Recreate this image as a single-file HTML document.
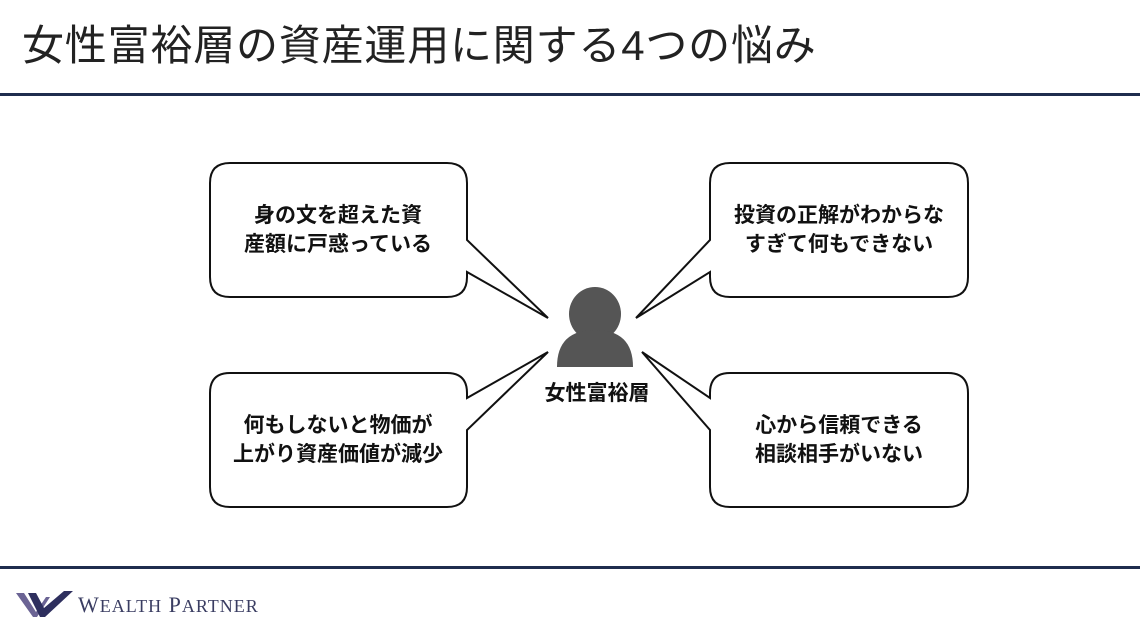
<!DOCTYPE html>
<html><head><meta charset="utf-8"><style>
html,body{margin:0;padding:0;background:#fff;}
svg{display:block;}
</style></head><body>
<svg width="1140" height="641" viewBox="0 0 1140 641" xmlns="http://www.w3.org/2000/svg">
<text x="22" y="60" font-family="'Liberation Sans','Noto Sans CJK JP',sans-serif" font-size="42" letter-spacing="0.8" fill="#222">女性富裕層の資産運用に関する4つの悩み</text>
<rect x="0" y="93" width="1140" height="3" fill="#1f2d4e"/>
<g fill="#fff" stroke="#111" stroke-width="2" stroke-linejoin="miter">
<path d="M230,163 H447 Q467,163 467,183 V240 L548,318 L467,272 V277 Q467,297 447,297 H230 Q210,297 210,277 V183 Q210,163 230,163 Z"/>
<path d="M730,163 H948 Q968,163 968,183 V277 Q968,297 948,297 H730 Q710,297 710,277 V272 L636,318 L710,240 V183 Q710,163 730,163 Z"/>
<path d="M230,373 H447 Q467,373 467,393 V398 L548,352 L467,430 V487 Q467,507 447,507 H230 Q210,507 210,487 V393 Q210,373 230,373 Z"/>
<path d="M730,373 H948 Q968,373 968,393 V487 Q968,507 948,507 H730 Q710,507 710,487 V430 L642,352 L710,398 V393 Q710,373 730,373 Z"/>
</g>
<g font-family="'Liberation Sans','Noto Sans CJK JP',sans-serif" font-size="21" font-weight="bold" fill="#111" text-anchor="middle">
<text x="338" y="222">身の文を超えた資</text>
<text x="338" y="251">産額に戸惑っている</text>
<text x="839" y="222">投資の正解がわからな</text>
<text x="839" y="251">すぎて何もできない</text>
<text x="338" y="432">何もしないと物価が</text>
<text x="338" y="461">上がり資産価値が減少</text>
<text x="839" y="432">心から信頼できる</text>
<text x="839" y="461">相談相手がいない</text>
<text x="597" y="400" font-size="21">女性富裕層</text>
</g>
<ellipse cx="595" cy="314" rx="26" ry="27" fill="#555"/>
<path d="M557,367 Q557,330 595,330 Q633,330 633,367 Z" fill="#555"/>
<rect x="0" y="566" width="1140" height="3" fill="#1f2d4e"/>
<polygon points="16,593 24,593 36,612 46,597 50,597 37,617 33,617" fill="#6b6494"/>
<polygon points="28,593 36,593 44,608 64,591 73,591 45,617 40,617" fill="#2e2f5e"/>
<text x="78" y="612" font-family="'Liberation Serif',serif" font-size="22" letter-spacing="1" fill="#3a3d62">W<tspan font-size="18">EALTH</tspan> P<tspan font-size="18">ARTNER</tspan></text>
</svg>
</body></html>
